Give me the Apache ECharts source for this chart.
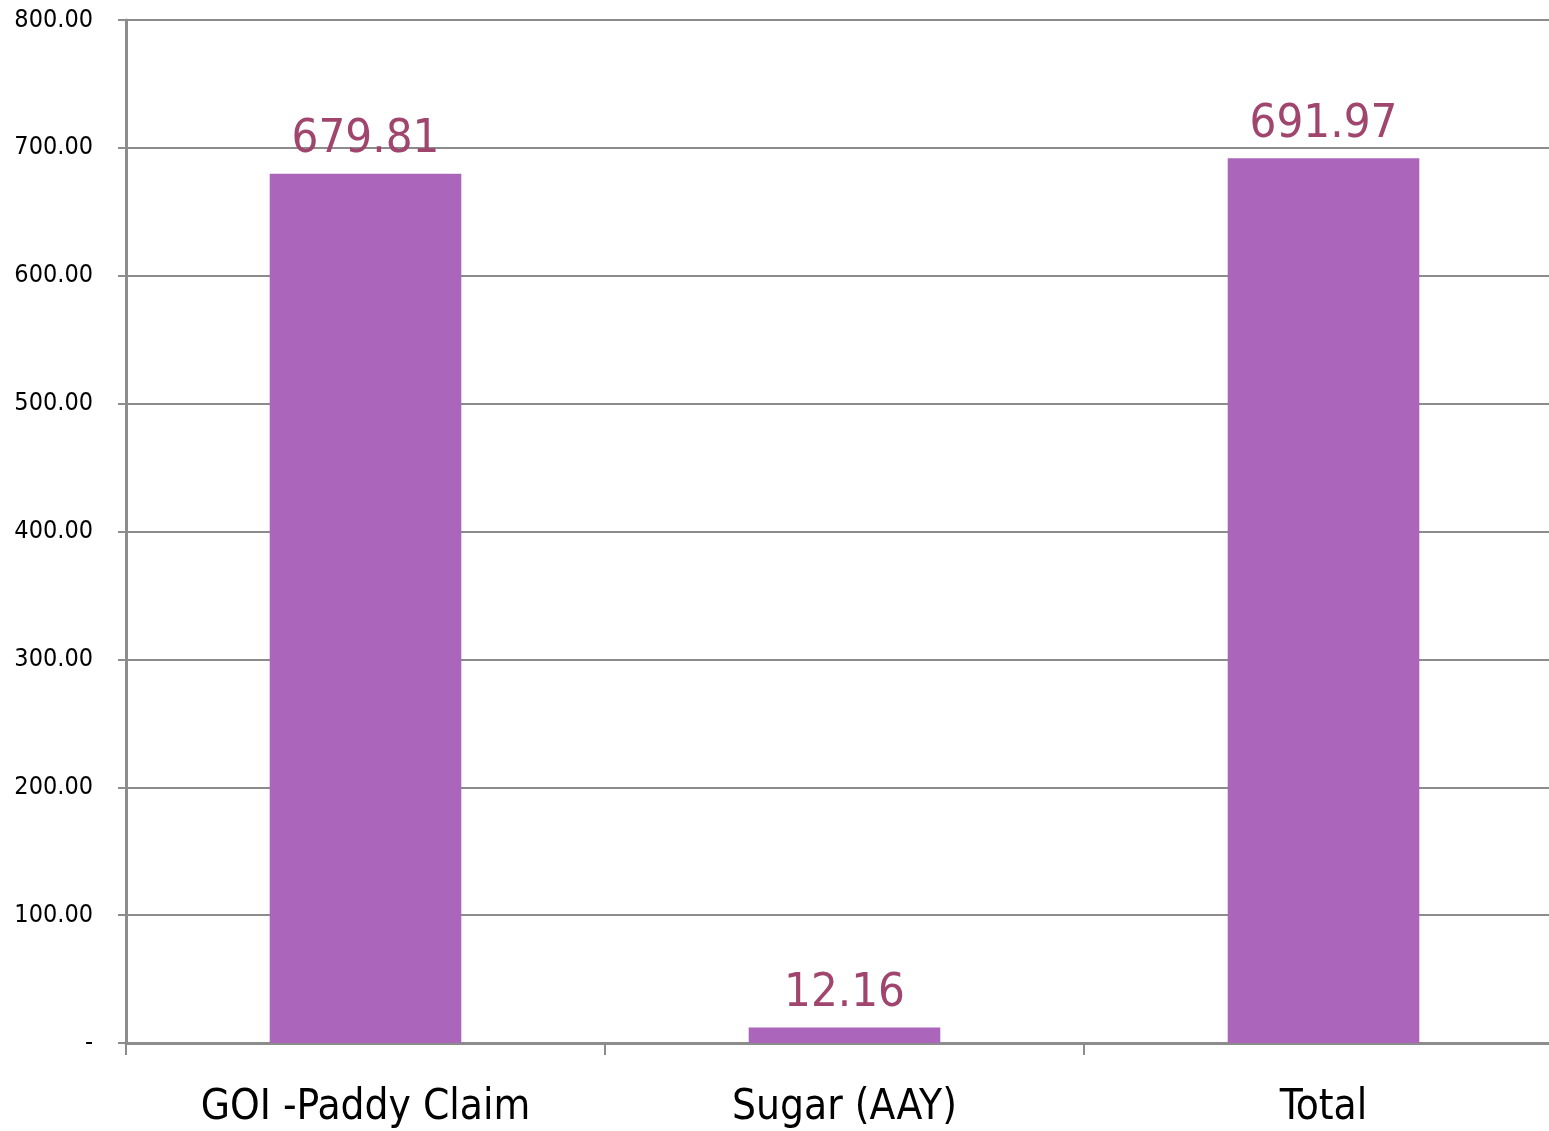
<!DOCTYPE html>
<html><head><meta charset="utf-8">
<script src="https://cdn.jsdelivr.net/npm/echarts@6/dist/echarts.min.js"></script>
<style>html,body{margin:0;padding:0;background:#fff}#c{width:1549px;height:1131px}</style>
</head><body><div id="c"></div>
<script>
const categories = ["GOI -Paddy Claim", "Sugar (AAY)", "Total"];
const values = [679.81, 12.16, 691.97];
const yTicks = { min: 0, max: 800, interval: 100 };
const fontFam = '"DejaVu Sans Condensed", "DejaVu Sans", sans-serif';
const chart = echarts.init(document.getElementById('c'));
chart.setOption({
  animation: false,
  grid: { left: 126, right: -14, top: 20, bottom: 88, containLabel: false, outerBoundsMode: 'none' },
  xAxis: {
    type: 'category', data: categories,
    axisLine: { lineStyle: { color: '#8c8c8c', width: 3 } },
    axisTick: { show: true, length: 12, lineStyle: { color: '#8c8c8c', width: 2 } },
    axisLabel: { color: '#000', fontSize: 42, fontFamily: fontFam, margin: 44 }
  },
  yAxis: {
    type: 'value', min: yTicks.min, max: yTicks.max, interval: yTicks.interval,
    axisLine: { show: true, lineStyle: { color: '#8c8c8c', width: 3 } },
    axisTick: { show: true, length: 8, lineStyle: { color: '#8c8c8c', width: 2 } },
    splitLine: { lineStyle: { color: '#8c8c8c', width: 2 } },
    axisLabel: { color: '#000', fontSize: 25, fontFamily: fontFam, margin: 33,
      formatter: v => v === 0 ? '-' : v.toFixed(2) }
  },
  series: [{
    type: 'bar', data: values, barWidth: '40%',
    itemStyle: { color: '#AB66BB' },
    label: { show: true, position: 'top', distance: 10, color: '#A0466E', fontSize: 47,
      fontFamily: fontFam, formatter: p => p.value.toFixed(2) }
  }]
});
</script></body></html>
